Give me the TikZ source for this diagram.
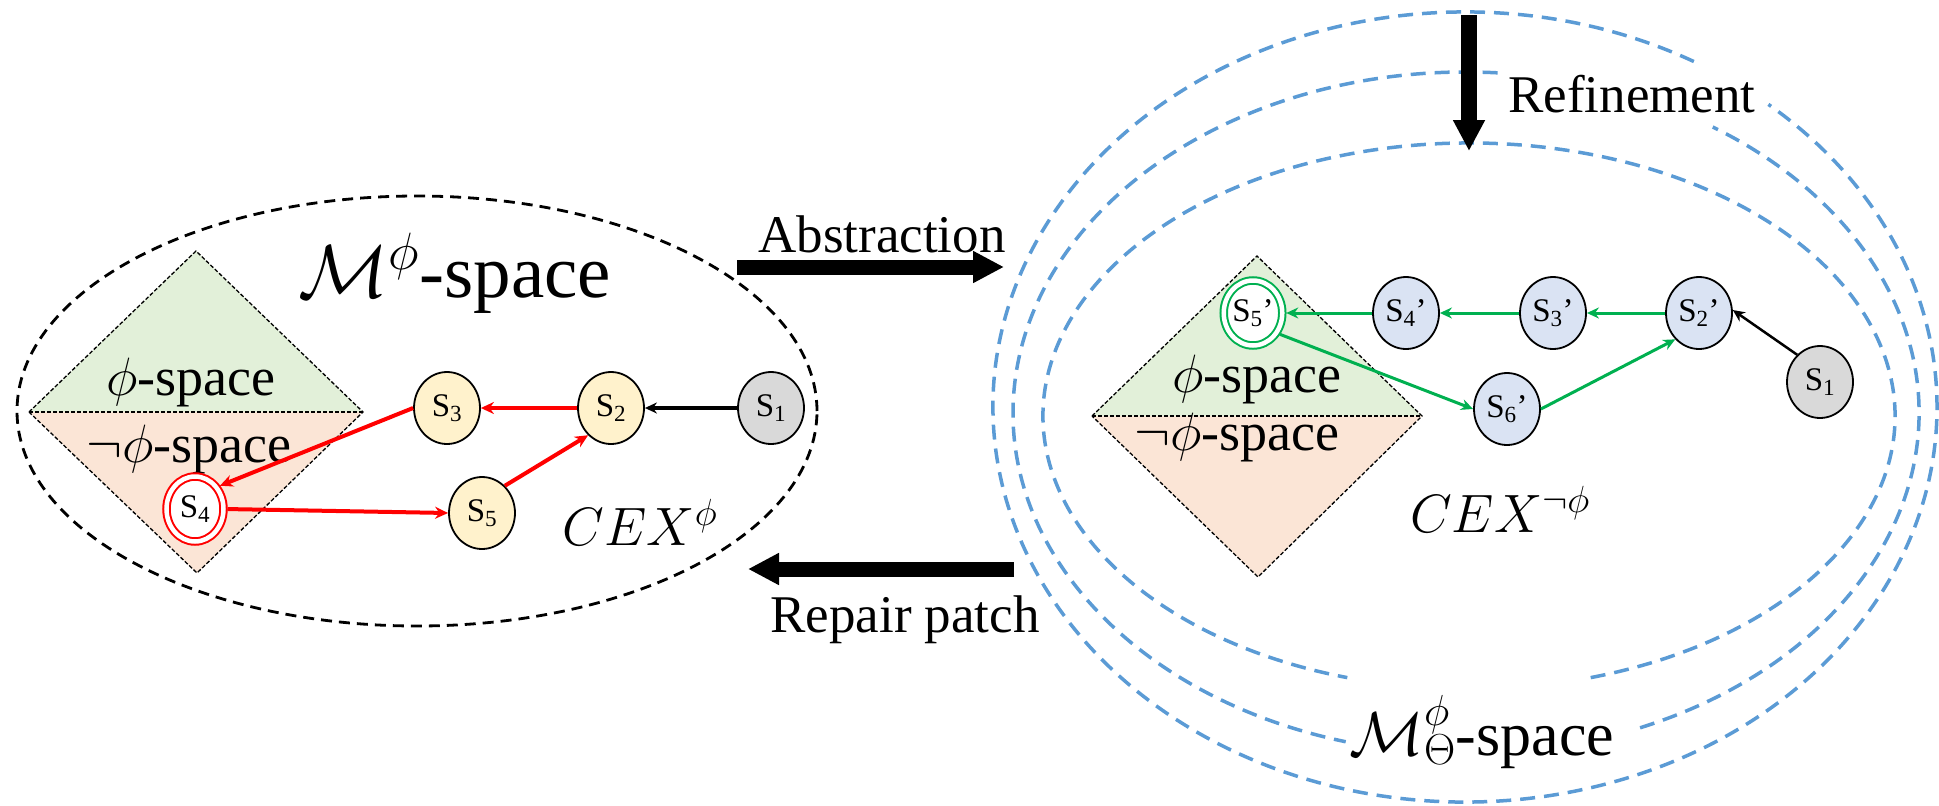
\RequirePackage{fix-cm}
\documentclass[tikz,border=0pt]{standalone}
\usepackage{fontspec}
\setmainfont{Liberation Serif}
\usetikzlibrary{arrows.meta,shapes.geometric}
\definecolor{nodeyellow}{HTML}{FFF2CC}
\definecolor{nodegray}{HTML}{D9D9D9}
\definecolor{nodeblue}{HTML}{DAE3F3}
\definecolor{phigreen}{HTML}{E2F0D9}
\definecolor{negorange}{HTML}{FBE5D6}
\definecolor{arrowgreen}{HTML}{00B050}
\definecolor{dashblue}{HTML}{5B9BD5}
\tikzset{
  statebase/.style={ellipse, draw=black, line width=1.8pt, minimum width=66pt, minimum height=72pt, inner sep=0pt, font=\fontsize{33}{36}\selectfont},
  ystate/.style={statebase, fill=nodeyellow},
  gstate/.style={statebase, fill=nodegray},
  bstate/.style={statebase, fill=nodeblue},
  acceptbase/.style={ellipse, line width=2pt, fill=white, double=white, double distance=4.5pt, minimum width=57pt, minimum height=65pt, inner sep=0pt, font=\fontsize{33}{36}\selectfont},
  redacc/.style={acceptbase, draw=red},
  greenacc/.style={acceptbase, draw=arrowgreen},
  redarrow/.style={draw=red, line width=4pt, -{Stealth[length=13pt,width=12pt]}},
  greenarrow/.style={draw=arrowgreen, line width=3pt, -{Stealth[length=12pt,width=11pt]}},
  blackarrow/.style={draw=black, line width=3pt, -{Stealth[length=12pt,width=11pt]}},
  bigarrow/.style={draw=black, line width=15pt, -{Triangle[length=31pt,width=30pt]}},
  blackdash/.style={draw=black, line width=2.8pt, dash pattern=on 11pt off 7pt},
  bluedash/.style={draw=dashblue, line width=3.5pt, dash pattern=on 15pt off 9pt},
  thindash/.style={draw=black, line width=1.3pt, dash pattern=on 4pt off 2pt},
  biglbl/.style={anchor=base, font=\fontsize{53}{60}\selectfont},
  spacelbl/.style={anchor=base, font=\fontsize{54}{60}\selectfont},
}
\begin{document}
\begin{tikzpicture}[x=1pt, y=-1pt]
\useasboundingbox (0,0) rectangle (1939,806);

% left M-space ellipse
\draw[blackdash] (417,411) ellipse [x radius=400pt, y radius=215pt];

% left diamond
\fill[phigreen] (29,412) -- (196,251) -- (363,412) -- cycle;
\fill[negorange] (29,412) -- (197,573) -- (363,412) -- cycle;
\draw[thindash] (29,412) -- (196,251) -- (363,412) -- (197,573) -- cycle;
\draw[thindash] (29,412) -- (363,412);

% right diamond
\fill[phigreen] (1092,416) -- (1257,256) -- (1422,416) -- cycle;
\fill[negorange] (1092,416) -- (1258,577) -- (1422,416) -- cycle;
\draw[thindash] (1092,416) -- (1257,256) -- (1422,416) -- (1258,577) -- cycle;
\draw[thindash] (1092,416) -- (1422,416);

% blue dashed ellipses
\draw[bluedash] (1465,407) ++(61:472pt and 395pt) arc[start angle=61, end angle=410, x radius=472pt, y radius=395pt];
\draw[bluedash] (1466,413) ++(86:453pt and 341pt) arc[start angle=86, end angle=254.6, x radius=453pt, y radius=341pt];
\draw[bluedash] (1466,413) ++(292.6:453pt and 341pt) arc[start angle=292.6, end angle=417, x radius=453pt, y radius=341pt];
\draw[bluedash] (1469,416) ++(286.6:426pt and 273pt) arc[start angle=286.6, end angle=613.4, x radius=426pt, y radius=273pt];

% labels
\node[anchor=base, font=\fontsize{75}{80}\selectfont] (mlabel) at (455,297) {$\mathcal{M}^{\phi}$-space};
\node[anchor=base, font=\fontsize{62}{70}\selectfont] (mthetalabel) at (1482,755) {$\mathcal{M}_{\Theta}^{\phi}$-space};
\node[spacelbl] (lphi) at (191,395) {$\phi$-space};
\node[spacelbl] (lnphi) at (189,462) {$\neg\phi$-space};
\node[spacelbl] (rphi) at (1257,392) {$\phi$-space};
\node[spacelbl] (rnphi) at (1237,450) {$\neg\phi$-space};
\node[spacelbl] (lcex) at (640,545) {$CEX^{\phi}$};
\node[spacelbl] (rcex) at (1500,532) {$CEX^{\neg\phi}$};
\node[biglbl] (abslbl) at (882,252) {Abstraction};
\node[biglbl] (reflbl) at (1632,112) {Refinement};
\node[biglbl] (replbl) at (905,632) {Repair patch};

% big arrows
\coordinate (absA) at (737,267);
\coordinate (absB) at (1004,267);
\coordinate (repA) at (1014,569);
\coordinate (repB) at (748,569);
\coordinate (refA) at (1469,15);
\coordinate (refB) at (1469,151);
\draw[bigarrow] (absA) -- (absB);
\draw[bigarrow] (repA) -- (repB);
\draw[bigarrow, line width=16pt] (refA) -- (refB);

% left states
\node[gstate] (ls1) at (771,408) {S\textsubscript{1}};
\node[ystate] (ls2) at (611,408) {S\textsubscript{2}};
\node[ystate] (ls3) at (447,408) {S\textsubscript{3}};
\node[redacc] (ls4) at (195,509) {S\textsubscript{4}};
\node[ystate] (ls5) at (482,513) {S\textsubscript{5}};

\draw[blackarrow, line width=3.5pt] (ls1.west) -- (ls2.east);
\draw[redarrow] (ls2.west) -- (ls3.east);
\draw[redarrow, shorten >=3pt] (ls3.west) -- (ls4.45);
\draw[redarrow, shorten <=3pt] (ls4.east) -- (ls5.west);
\draw[redarrow] (ls5.50) -- (ls2.230);

% right states
\node[gstate] (rs1) at (1820,382) {S\textsubscript{1}};
\node[bstate] (rs2) at (1699,313) {S\textsubscript{2}’};
\node[bstate] (rs3) at (1553,313) {S\textsubscript{3}’};
\node[bstate] (rs4) at (1406,313) {S\textsubscript{4}’};
\node[greenacc] (rs5) at (1253,313) {S\textsubscript{5}’};
\node[bstate] (rs6) at (1507,409) {S\textsubscript{6}’};

\draw[blackarrow, line width=2.5pt] (rs1.130) -- (rs2.5);
\draw[greenarrow] (rs2.west) -- (rs3.east);
\draw[greenarrow] (rs3.west) -- (rs4.east);
\draw[greenarrow, shorten >=3pt] (rs4.west) -- (rs5.east);
\draw[greenarrow, shorten <=3pt] (rs5.-40) -- (rs6.west);
\draw[greenarrow] (rs6.east) -- (rs2.228);
\end{tikzpicture}
\end{document}
